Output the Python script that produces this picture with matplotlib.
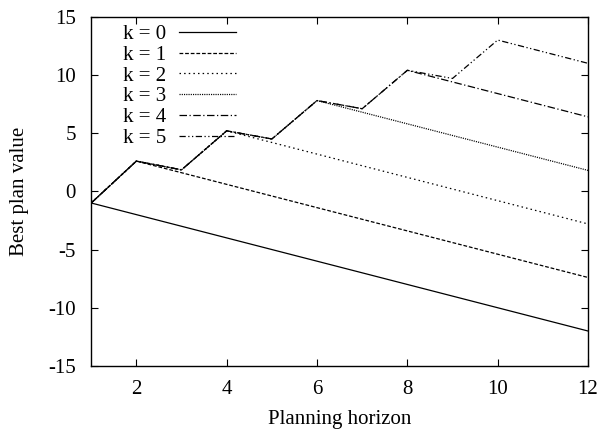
import matplotlib
matplotlib.use("Agg")
import matplotlib.pyplot as plt

plt.rcParams['font.family'] = ['Liberation Serif', 'DejaVu Serif']
plt.rcParams['axes.unicode_minus'] = False

horizon = [1, 2, 3, 4, 5, 6, 7, 8, 9, 10, 11, 12]
k0 = [-1, -2, -3, -4, -5, -6, -7, -8, -9, -10, -11, -12]
k1 = [-1, 2.6, 1.6, 0.6, -0.4, -1.4, -2.4, -3.4, -4.4, -5.4, -6.4, -7.4]
k2 = [-1, 2.6, 1.85, 5.2, 4.2, 3.2, 2.2, 1.2, 0.2, -0.8, -1.8, -2.8]
k3 = [-1, 2.6, 1.85, 5.2, 4.5, 7.8, 6.8, 5.8, 4.8, 3.8, 2.8, 1.8]
k4 = [-1, 2.6, 1.85, 5.2, 4.5, 7.8, 7.1, 10.4, 9.4, 8.4, 7.4, 6.4]
k5 = [-1, 2.6, 1.85, 5.2, 4.5, 7.8, 7.1, 10.4, 9.7, 13.0, 12.0, 11.0]
labels = ['k = 0', 'k = 1', 'k = 2', 'k = 3', 'k = 4', 'k = 5']

fig = plt.figure(figsize=(6, 4.3), dpi=100)
ax = fig.add_axes([0.152, 0.149, 0.828, 0.812])

# gnuplot-like dash types
styles = [
    dict(linestyle='-'),
    dict(linestyle=(0, (3, 1.5))),
    dict(linestyle=(0, (1.2, 2.5))),
    dict(linestyle=(0, (0.9, 0.9))),
    dict(linestyle=(0, (6, 2, 1, 2))),
    dict(linestyle=(0, (5, 2, 1, 2, 1, 2))),
]
for ys, lab, st in zip([k0, k1, k2, k3, k4, k5], labels, styles):
    ax.plot(horizon, ys, label=lab, color='black', linewidth=0.9, **st)

ax.set_xlim(1, 12)
ax.set_ylim(-15, 15)
ax.set_xticks([2, 4, 6, 8, 10, 12])
ax.set_yticks([-15, -10, -5, 0, 5, 10, 15])
ax.tick_params(direction='in', top=True, right=True, length=5, labelsize=15)
ax.tick_params(axis='x', pad=10)
ax.tick_params(axis='y', pad=11)
for s in ax.spines.values():
    s.set_linewidth(1.0)

ax.set_xlabel('Planning horizon', fontsize=15, labelpad=8)
ax.set_ylabel('Best plan value', fontsize=15, labelpad=14)

ax.legend(loc='upper left', frameon=False, markerfirst=False, fontsize=15,
          handlelength=2.75, handletextpad=0.6, labelspacing=0.06,
          borderaxespad=0.2, bbox_to_anchor=(0.039, 1.014))

fig.savefig('out.png', dpi=100)
